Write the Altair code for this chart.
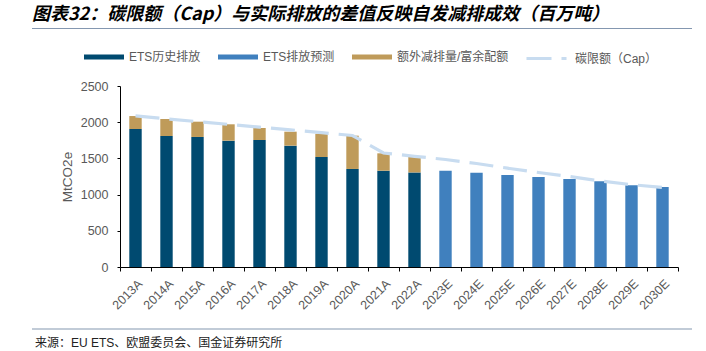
import altair as alt
import pandas as pd

years = ["2013A", "2014A", "2015A", "2016A", "2017A", "2018A", "2019A", "2020A", "2021A", "2022A",
         "2023E", "2024E", "2025E", "2026E", "2027E", "2028E", "2029E", "2030E"]
hist_years = years[:10]
fc_years = years[10:]
hist = [1906, 1809, 1796, 1745, 1754, 1676, 1519, 1354, 1330, 1306]
surplus = [179, 235, 211, 226, 166, 193, 322, 460, 240, 218]
forecast = [1330, 1303, 1271, 1243, 1215, 1184, 1128, 1105]
cap = [2088, 2046, 2008, 1970, 1932, 1894, 1855, 1816, 1575, 1529,
       1485, 1430, 1365, 1305, 1250, 1188, 1137, 1100]
y_ticks = [0, 500, 1000, 1500, 2000, 2500]

S_HIST = "ETS历史排放"
S_FC = "ETS排放预测"
S_SUR = "额外减排量/富余配额"
S_CAP = "碳限额（Cap）"

rows = []
for y, v in zip(hist_years, hist):
    rows.append({"year": y, "series": S_HIST, "value": v, "ord": 0})
for y, v in zip(hist_years, surplus):
    rows.append({"year": y, "series": S_SUR, "value": v, "ord": 1})
for y, v in zip(fc_years, forecast):
    rows.append({"year": y, "series": S_FC, "value": v, "ord": 0})
bars_df = pd.DataFrame(rows)
cap_df = pd.DataFrame({"year": years, "value": cap, "series": [S_CAP] * len(years)})
one = pd.DataFrame({"k": [0]})

FONT = "Liberation Sans, Noto Sans CJK SC"
GREY = "#595959"

x_axis = alt.Axis(labelAngle=-45, labelFontSize=12.5, labelColor=GREY, labelFont=FONT,
                  tickBand="extent", tickSize=4, tickColor="#000", domainColor="#000",
                  labelPadding=6)
x_scale = alt.Scale(paddingInner=0, paddingOuter=0)
y_axis = alt.Axis(values=y_ticks, format="d", labelOverlap=False, tickCount=6,
                  grid=False, tickSize=3,
                  labelPadding=9, labelFontSize=12.5, labelColor=GREY, labelFont=FONT,
                  titleFont=FONT, titleFontSize=13.5, titleColor=GREY,
                  titleFontWeight="normal", titlePadding=6,
                  domainColor="#000", tickColor="#000")
y_scale = alt.Scale(domain=[0, 2500], nice=False)

bars = alt.Chart(bars_df).mark_bar(width={"band": 0.4}).encode(
    x=alt.X("year:N", sort=years, title=None, scale=x_scale, axis=x_axis),
    y=alt.Y("value:Q", stack="zero", scale=y_scale, title="MtCO2e", axis=y_axis),
    fill=alt.Fill("series:N",
                  scale=alt.Scale(domain=[S_HIST, S_FC, S_SUR],
                                  range=["#004a70", "#4080be", "#bf9b5a"]),
                  legend=alt.Legend(title=None, orient="none", legendX=-36, legendY=-49,
                                    direction="horizontal",
                                    symbolType="M-1,-0.12H1V0.12H-1Z", symbolSize=1600,
                                    symbolStrokeWidth=0, labelFontSize=12, labelColor=GREY,
                                    labelFont=FONT, labelOffset=5, columnPadding=17)),
    order=alt.Order("ord:Q"),
)

line = alt.Chart(cap_df).mark_line(strokeWidth=3.2, strokeDash=[24, 10]).encode(
    x=alt.X("year:N", sort=years, title=None, scale=x_scale, axis=x_axis),
    y=alt.Y("value:Q", scale=y_scale, title="MtCO2e", axis=y_axis),
    stroke=alt.Stroke("series:N",
                      scale=alt.Scale(domain=[S_CAP], range=["#c8dcf0"]),
                      legend=alt.Legend(title=None, orient="none", legendX=405, legendY=-49,
                                        symbolType="stroke", symbolSize=1600,
                                        symbolStrokeWidth=3, symbolDash=[25, 10],
                                        labelFontSize=12, labelColor=GREY, labelFont=FONT,
                                        labelOffset=7)),
)

title = alt.Chart(one).mark_text(
    text="图表32：碳限额（Cap）与实际排放的差值反映自发减排成效（百万吨）",
    font="Noto Sans CJK SC", fontSize=18, fontWeight="bold", fontStyle="italic",
    align="left", baseline="middle", color="#000",
).encode(x=alt.value(-88), y=alt.value(-71))

source = alt.Chart(one).mark_text(
    text="来源：EU ETS、欧盟委员会、国金证券研究所",
    font=FONT, fontSize=12, align="left", baseline="middle", color="#222",
).encode(x=alt.value(-85), y=alt.value(257))

top_rule = alt.Chart(one).mark_rule(color="#8497b0", strokeWidth=1.2).encode(
    x=alt.value(-88), x2=alt.value(572), y=alt.value(-57.5))
bottom_rule = alt.Chart(one).mark_rule(color="#8497b0", strokeWidth=1.2).encode(
    x=alt.value(-88), x2=alt.value(572), y=alt.value(243))

chart = alt.layer(bars, line, title, source, top_rule, bottom_rule).resolve_scale(
    fill="independent", stroke="independent"
).properties(
    width=558, height=181,
    autosize=alt.AutoSizeParams(type="none"),
    padding={"left": 120, "top": 86, "right": 28, "bottom": 84},
    background="white",
).configure_view(stroke=None)

chart.save("out.html", embed_options={"renderer": "svg", "actions": False})
